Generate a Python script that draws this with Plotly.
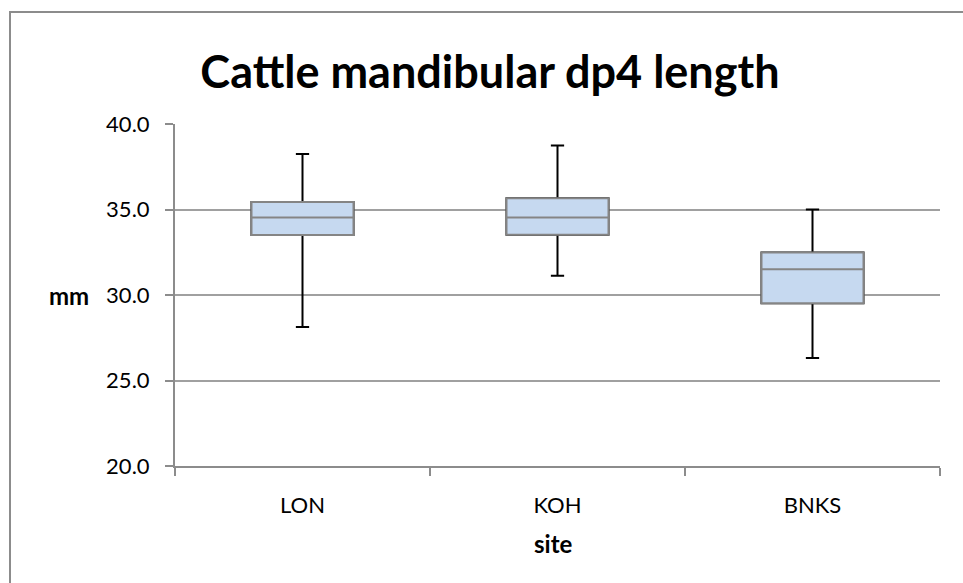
import plotly.graph_objects as go

# Summary statistics of dp4 length (mm) per site
sites = ["LON", "KOH", "BNKS"]
minimum = [28.13, 31.12, 26.31]
q1 = [33.51, 33.53, 29.52]
median = [34.53, 34.53, 31.50]
q3 = [35.44, 35.66, 32.49]
maximum = [38.24, 38.75, 35.00]

y_ticks = [20, 25, 30, 35, 40]

W, H = 963, 583
L, R, T, B = 175, 23, 124, 117
plot_w = W - L - R
plot_h = H - T - B

FONT = "Lato, Calibri, Arial, sans-serif"
GRAY = "#8c8c8c"

fig = go.Figure()

# Whiskers (black) drawn first
fig.add_trace(go.Box(
    x=sites, q1=q1, median=median, q3=q3,
    lowerfence=minimum, upperfence=maximum,
    width=0.4, whiskerwidth=0.13,
    line=dict(color="black", width=2),
    fillcolor="rgba(0,0,0,0)",
    boxpoints=False, hoverinfo="skip", showlegend=False,
))
# Boxes with grey outline and median on top
fig.add_trace(go.Box(
    x=sites, q1=q1, median=median, q3=q3,
    lowerfence=q1, upperfence=q3,
    width=0.4, whiskerwidth=0,
    line=dict(color="#858585", width=2),
    fillcolor="#c6d9f0",
    boxpoints=False, hoverinfo="skip", showlegend=False,
))

def px_x(p):
    return (p - L) / plot_w

def px_y(p):
    return (H - B - p) / plot_h

# Chart-area border (left and top edges)
fig.add_shape(type="line", xref="paper", yref="paper",
              x0=px_x(10), x1=px_x(10), y0=px_y(12), y1=px_y(600),
              line=dict(color=GRAY, width=2))
fig.add_shape(type="line", xref="paper", yref="paper",
              x0=px_x(9), x1=px_x(980), y0=px_y(12), y1=px_y(12),
              line=dict(color=GRAY, width=2))

fig.add_annotation(text="<b>mm</b>", xref="paper", yref="paper",
                   x=px_x(69), y=0.5, showarrow=False,
                   xanchor="center", yanchor="middle",
                   font=dict(family=FONT, size=24, color="black"))
fig.add_annotation(text="<b>site</b>", xref="paper", yref="paper",
                   x=px_x(553), y=px_y(543), showarrow=False,
                   xanchor="center", yanchor="middle",
                   font=dict(family=FONT, size=24, color="black"))

fig.update_layout(
    width=W, height=H,
    margin=dict(l=L, r=R, t=T, b=B, pad=0),
    paper_bgcolor="white", plot_bgcolor="white",
    boxmode="overlay",
    title=dict(text="<b>Cattle mandibular dp4 length</b>",
               xref="container", yref="container",
               x=490 / W, y=1 - 72 / H,
               xanchor="center", yanchor="middle",
               font=dict(family=FONT, size=45, color="black")),
    font=dict(family=FONT, size=22, color="black"),
)

fig.update_xaxes(
    type="category", range=[-0.5, 2.5],
    showline=True, linecolor=GRAY, linewidth=2,
    ticks="outside", tickson="boundaries", ticklen=8,
    tickcolor=GRAY, tickwidth=1.5,
    showgrid=False, ticklabelstandoff=19,
    tickfont=dict(family=FONT, size=22, color="black"),
)
fig.update_yaxes(
    range=[20, 40], tickvals=y_ticks,
    ticktext=[f"{v:.1f}" for v in y_ticks],
    showline=True, linecolor=GRAY, linewidth=2,
    ticks="outside", ticklen=8, tickcolor=GRAY, tickwidth=1.5,
    showgrid=True, gridcolor="#a0a0a0", gridwidth=1.5,
    zeroline=False, ticklabelstandoff=11,
    tickfont=dict(family=FONT, size=22, color="black"),
)

fig.write_html("out.html")
